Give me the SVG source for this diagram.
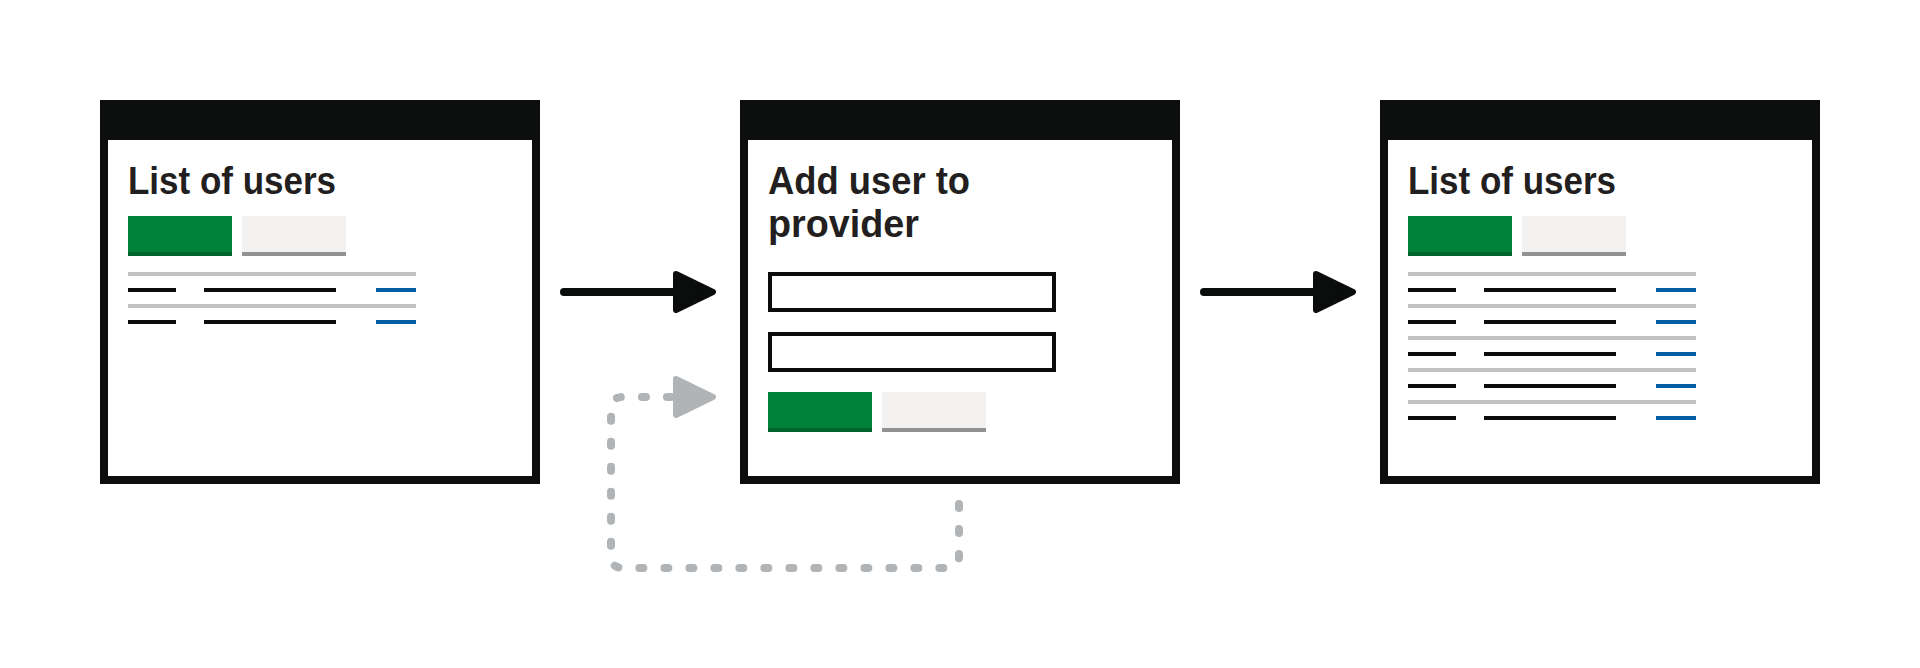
<svg xmlns="http://www.w3.org/2000/svg" width="1920" height="668" viewBox="0 0 1920 668">
<style>
.frame{fill:#0d0f0e}
.page{fill:#ffffff}
.title{font-family:"Liberation Sans",Arial,sans-serif;font-weight:bold;font-size:38px;fill:#231f20}
.btn-g{fill:#00823b}
.btn-g-s{fill:#00632b}
.btn-s{fill:#f3f2f1}
.btn-s-s{fill:#929191}
.rule{fill:#bfc1c3}
.txt{fill:#0b0c0c}
.lnk{fill:#005ea5}
.input{fill:#ffffff;stroke:#0b0c0c;stroke-width:4}
.conn{fill:none;stroke-width:8;stroke-linecap:round}
</style>
<defs>
<marker id="ah-black" markerUnits="userSpaceOnUse" viewBox="0 0 50 50" markerWidth="50" markerHeight="50" refX="10" refY="25" orient="auto" overflow="visible">
<path d="M6 7 L43 25 L6 43 Z" fill="#0b0c0c" stroke="#0b0c0c" stroke-width="6" stroke-linejoin="round"/>
</marker>
<marker id="ah-grey" markerUnits="userSpaceOnUse" viewBox="0 0 50 50" markerWidth="50" markerHeight="50" refX="10" refY="25" orient="auto" overflow="visible">
<path d="M6 7 L43 25 L6 43 Z" fill="#b1b4b6" stroke="#b1b4b6" stroke-width="6" stroke-linejoin="round"/>
</marker>
</defs>
<rect width="1920" height="668" fill="#ffffff"/>

<g id="node-list-1">
<rect class="frame" x="100" y="100" width="440" height="384"/>
<rect class="page" x="108" y="140" width="424" height="336"/>
<text class="title" x="128" y="194" textLength="208" lengthAdjust="spacingAndGlyphs">List of users</text>
<rect class="btn-g" x="128" y="216" width="104" height="40"/>
<rect class="btn-g-s" x="128" y="252" width="104" height="4"/>
<rect class="btn-s" x="242" y="216" width="104" height="40"/>
<rect class="btn-s-s" x="242" y="252" width="104" height="4"/>
<rect class="rule" x="128" y="272" width="288" height="4"/>
<rect class="txt" x="128" y="288" width="48" height="4"/>
<rect class="txt" x="204" y="288" width="132" height="4"/>
<rect class="lnk" x="376" y="288" width="40" height="4"/>
<rect class="rule" x="128" y="304" width="288" height="4"/>
<rect class="txt" x="128" y="320" width="48" height="4"/>
<rect class="txt" x="204" y="320" width="132" height="4"/>
<rect class="lnk" x="376" y="320" width="40" height="4"/>
</g>

<g id="node-add-user">
<rect class="frame" x="740" y="100" width="440" height="384"/>
<rect class="page" x="748" y="140" width="424" height="336"/>
<text class="title" x="768" y="194" textLength="202" lengthAdjust="spacingAndGlyphs">Add user to</text>
<text class="title" x="768" y="237" textLength="151" lengthAdjust="spacingAndGlyphs">provider</text>
<rect class="input" x="770" y="274" width="284" height="36"/>
<rect class="input" x="770" y="334" width="284" height="36"/>
<rect class="btn-g" x="768" y="392" width="104" height="40"/>
<rect class="btn-g-s" x="768" y="428" width="104" height="4"/>
<rect class="btn-s" x="882" y="392" width="104" height="40"/>
<rect class="btn-s-s" x="882" y="428" width="104" height="4"/>
</g>

<g id="node-list-2">
<rect class="frame" x="1380" y="100" width="440" height="384"/>
<rect class="page" x="1388" y="140" width="424" height="336"/>
<text class="title" x="1408" y="194" textLength="208" lengthAdjust="spacingAndGlyphs">List of users</text>
<rect class="btn-g" x="1408" y="216" width="104" height="40"/>
<rect class="btn-g-s" x="1408" y="252" width="104" height="4"/>
<rect class="btn-s" x="1522" y="216" width="104" height="40"/>
<rect class="btn-s-s" x="1522" y="252" width="104" height="4"/>
<rect class="rule" x="1408" y="272" width="288" height="4"/>
<rect class="txt" x="1408" y="288" width="48" height="4"/>
<rect class="txt" x="1484" y="288" width="132" height="4"/>
<rect class="lnk" x="1656" y="288" width="40" height="4"/>
<rect class="rule" x="1408" y="304" width="288" height="4"/>
<rect class="txt" x="1408" y="320" width="48" height="4"/>
<rect class="txt" x="1484" y="320" width="132" height="4"/>
<rect class="lnk" x="1656" y="320" width="40" height="4"/>
<rect class="rule" x="1408" y="336" width="288" height="4"/>
<rect class="txt" x="1408" y="352" width="48" height="4"/>
<rect class="txt" x="1484" y="352" width="132" height="4"/>
<rect class="lnk" x="1656" y="352" width="40" height="4"/>
<rect class="rule" x="1408" y="368" width="288" height="4"/>
<rect class="txt" x="1408" y="384" width="48" height="4"/>
<rect class="txt" x="1484" y="384" width="132" height="4"/>
<rect class="lnk" x="1656" y="384" width="40" height="4"/>
<rect class="rule" x="1408" y="400" width="288" height="4"/>
<rect class="txt" x="1408" y="416" width="48" height="4"/>
<rect class="txt" x="1484" y="416" width="132" height="4"/>
<rect class="lnk" x="1656" y="416" width="40" height="4"/>
</g>

<g id="connectors">
<path class="conn" d="M564 292 H680" stroke="#0b0c0c" marker-end="url(#ah-black)"/>
<path class="conn" d="M1204 292 H1320" stroke="#0b0c0c" marker-end="url(#ah-black)"/>
<path class="conn" d="M959 504 V556 Q959 568 947 568 H623 Q611 568 611 556 V409 Q611 397 623 397 H680" stroke="#b1b4b6" stroke-dasharray="4 21" marker-end="url(#ah-grey)"/>
</g>
</svg>
